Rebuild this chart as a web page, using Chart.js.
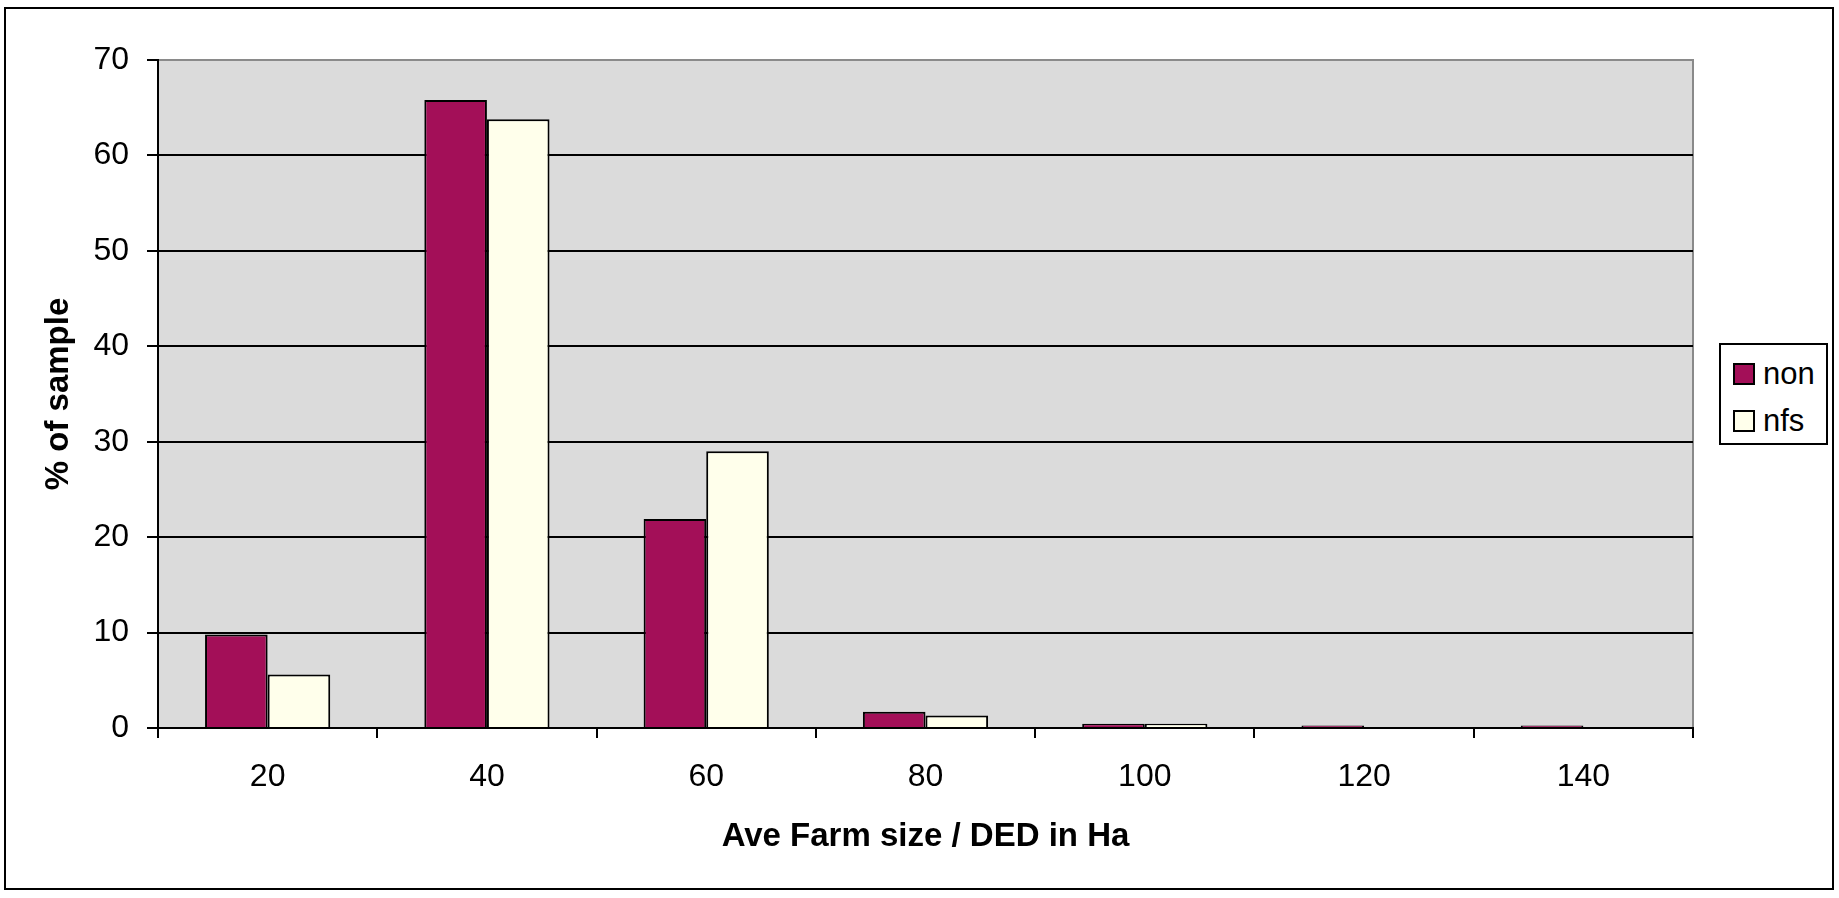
<!DOCTYPE html>
<html>
<head>
<meta charset="utf-8">
<script src="https://cdn.jsdelivr.net/npm/chart.js"></script>
<style>
  html, body { margin: 0; padding: 0; background: #fff; }
  #wrap { position: relative; width: 1839px; height: 898px; }
  #leyenda {
    position: absolute; left: 1719px; top: 343px; width: 105px; height: 98px;
    border: 2px solid #000; background: #fff;
    font-family: "Liberation Sans", Arial, sans-serif; font-size: 31px; color: #000;
  }
  .item { position: absolute; left: 12px; height: 36px; line-height: 36px; }
  .item span.caja { display: inline-block; width: 18px; height: 18px; border: 2px solid #000; vertical-align: middle; margin-right: 8px; position: relative; top: -2px; }
</style>
</head>
<body>
<div id="wrap">
  <canvas id="barChart"></canvas>
  <div id="leyenda">
    <div class="item" style="top: 11px;"><span class="caja" style="background:#a30f58"></span>non</div>
    <div class="item" style="top: 58px;"><span class="caja" style="background:#ffffeb"></span>nfs</div>
  </div>
</div>
<script>
// Datos
const categorias = ['20', '40', '60', '80', '100', '120', '140'];
const valoresNon = [9.8, 65.8, 21.9, 1.7, 0.45, 0.25, 0.25];
const valoresNfs = [5.6, 63.8, 29.0, 1.3, 0.45, 0, 0];
const ticksY = [0, 10, 20, 30, 40, 50, 60, 70];

const fuente = "'Liberation Sans', Arial, sans-serif";

// Fondo blanco, marco exterior y área gris del gráfico
const fondoPlugin = {
    id: 'fondo',
    beforeDraw(chart) {
        const ctx = chart.ctx;
        const area = chart.chartArea;
        ctx.save();
        ctx.fillStyle = '#fff';
        ctx.fillRect(0, 0, chart.width, chart.height);
        ctx.strokeStyle = '#000';
        ctx.lineWidth = 2;
        ctx.strokeRect(5, 8, 1828, 881);
        ctx.fillStyle = '#dbdbdb';
        ctx.fillRect(area.left, area.top, area.right - area.left, area.bottom - area.top);
        ctx.strokeStyle = '#8a8a8a';
        ctx.lineWidth = 2;
        ctx.strokeRect(area.left, area.top, area.right - area.left, area.bottom - area.top);
        ctx.restore();
    }
};

const ctx = document.getElementById('barChart').getContext('2d');
window.barChartInstance = new Chart(ctx, {
    type: 'bar',
    data: {
        labels: categorias,
        datasets: [{
            label: 'non',
            data: valoresNon,
            backgroundColor: '#a30f58',
            borderColor: '#000',
            borderWidth: 2
        }, {
            label: 'nfs',
            data: valoresNfs,
            backgroundColor: '#ffffeb',
            borderColor: '#000',
            borderWidth: 2
        }]
    },
    options: {
        responsive: true,
        maintainAspectRatio: false,
        animation: false,
        layout: { padding: { left: 0, top: 60, right: 146, bottom: 0 } },
        datasets: { bar: { categoryPercentage: 0.571, barPercentage: 1 } },
        plugins: {
            legend: { display: false },
            tooltip: { enabled: false }
        },
        scales: {
            x: {
                afterFit(scale) { scale.height = 170; },
                grid: { offset: true, drawOnChartArea: false, color: '#000', lineWidth: 2, tickLength: 10 },
                border: { color: '#000', width: 2 },
                ticks: { color: '#000', padding: 20, font: { family: fuente, size: 32 } },
                title: {
                    display: true,
                    text: 'Ave Farm size / DED in Ha',
                    color: '#000',
                    padding: { top: 0, bottom: 41 },
                    font: { family: fuente, size: 33, weight: 'bold' }
                }
            },
            y: {
                min: 0,
                max: 70,
                afterFit(scale) { scale.width = 158; },
                afterBuildTicks(scale) { scale.ticks = ticksY.map(v => ({ value: v })); },
                grid: {
                    color: c => (c.tick && c.tick.value === 70) ? '#8a8a8a' : '#000',
                    lineWidth: 2,
                    tickLength: 11,
                    tickColor: '#000'
                },
                border: { color: '#000', width: 2 },
                ticks: { color: '#000', padding: 18, font: { family: fuente, size: 32 } },
                title: {
                    display: true,
                    text: '% of sample',
                    color: '#000',
                    padding: { top: 39, bottom: 0 },
                    font: { family: fuente, size: 33, weight: 'bold' }
                }
            }
        }
    },
    plugins: [fondoPlugin]
});
</script>
</body>
</html>
